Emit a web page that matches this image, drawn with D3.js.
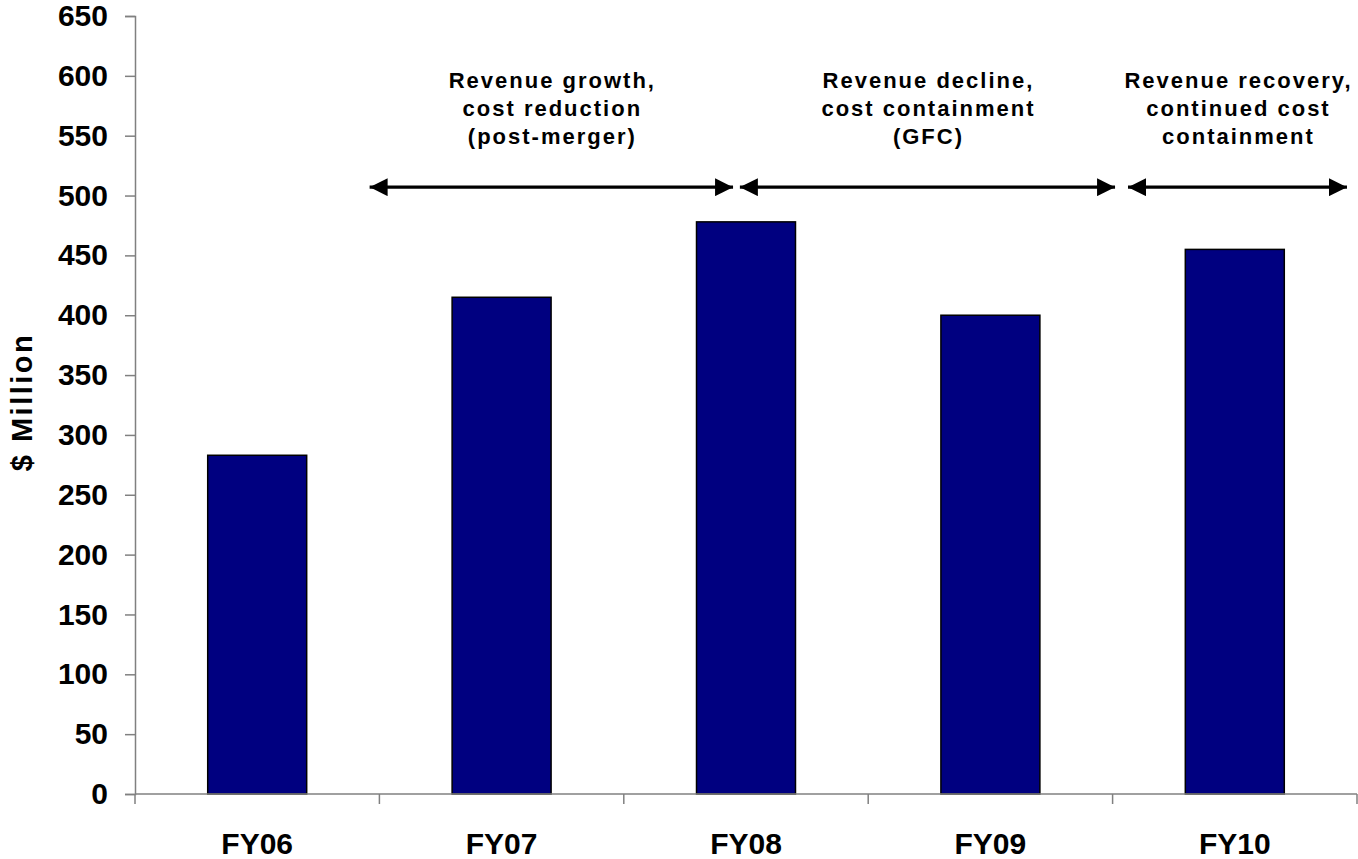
<!DOCTYPE html>
<html>
<head>
<meta charset="utf-8">
<script src="https://cdn.jsdelivr.net/npm/d3@7"></script>
<style>
  html, body { margin: 0; padding: 0; background: #fff; }
  svg { display: block; }
  text { font-family: "Liberation Sans", Arial, sans-serif; font-weight: bold; fill: #000; }
</style>
</head>
<body>
<svg id="chart" width="1358" height="859"></svg>
<script>
// Annual values, $ Million
const categories = ["FY06", "FY07", "FY08", "FY09", "FY10"];
const values = [283, 415, 478, 400, 455];
const yTicks = [0, 50, 100, 150, 200, 250, 300, 350, 400, 450, 500, 550, 600, 650];

// Period annotations: span in category units (0..5) and label lines
const periodStart = [0.96, 2.475, 4.063];
const periodEnd = [2.447, 4.01, 4.959];
const periodLabels = [
  ["Revenue growth,", "cost reduction", "(post-merger)"],
  ["Revenue decline,", "cost containment", "(GFC)"],
  ["Revenue recovery,", "continued cost", "containment"]
];
const periodLevel = 507;

const svg = d3.select("#chart");
const plotLeft = 135, plotRight = 1357, plotTop = 16, plotBottom = 794;

const x = d3.scaleBand().domain(categories).range([plotLeft, plotRight])
  .paddingInner(0.595).paddingOuter(0.2975);
const xPos = d3.scaleLinear().domain([0, categories.length]).range([plotLeft, plotRight]);
const y = d3.scaleLinear().domain([0, 650]).range([plotBottom, plotTop]);

// Bars
svg.append("g").selectAll("rect").data(values).join("rect")
  .attr("x", (d, i) => x(categories[i]))
  .attr("y", d => y(d))
  .attr("width", x.bandwidth())
  .attr("height", d => y(0) - y(d))
  .attr("fill", "#000080")
  .attr("stroke", "#000")
  .attr("stroke-width", 1.5);

// Y axis
const yAxis = svg.append("g").attr("transform", `translate(${plotLeft},0)`)
  .call(d3.axisLeft(y).tickValues(yTicks).tickSize(10).tickPadding(17));
yAxis.select(".domain").attr("stroke", "#808080").attr("stroke-width", 1.5);
yAxis.selectAll(".tick line").attr("stroke", "#808080").attr("stroke-width", 1.5);
yAxis.selectAll(".tick text")
  .style("font-family", "'Liberation Sans', Arial, sans-serif")
  .style("font-weight", "bold").style("font-size", "30px").attr("fill", "#000");

// X axis: ticks on category boundaries
const xAxis = svg.append("g").attr("transform", `translate(0,${plotBottom})`);
xAxis.append("line").attr("x1", plotLeft).attr("x2", plotRight)
  .attr("stroke", "#808080").attr("stroke-width", 1.5);
xAxis.selectAll("line.tk").data(d3.range(categories.length + 1)).join("line")
  .attr("class", "tk")
  .attr("x1", d => xPos(d)).attr("x2", d => xPos(d))
  .attr("y1", 0).attr("y2", 10)
  .attr("stroke", "#808080").attr("stroke-width", 1.5);
xAxis.selectAll("text").data(categories).join("text")
  .attr("x", d => x(d) + x.bandwidth() / 2)
  .attr("y", 60)
  .attr("text-anchor", "middle")
  .style("font-size", "30px")
  .text(d => d);

// Y axis title
svg.append("text")
  .attr("transform", `translate(32,402) rotate(-90)`)
  .attr("text-anchor", "middle")
  .style("font-size", "29px")
  .style("letter-spacing", "2.5px")
  .text("$ Million");

// Arrow heads
const defs = svg.append("defs");
["end", "start"].forEach(kind => {
  defs.append("marker")
    .attr("id", "arrow-" + kind)
    .attr("viewBox", "0 0 18 18")
    .attr("refX", kind === "end" ? 18 : 0).attr("refY", 9)
    .attr("markerWidth", 18).attr("markerHeight", 18)
    .attr("markerUnits", "userSpaceOnUse")
    .attr("orient", "auto")
    .append("path")
    .attr("d", kind === "end" ? "M0,0 L18,9 L0,18 Z" : "M18,0 L0,9 L18,18 Z")
    .attr("fill", "#000");
});

const periods = svg.append("g").selectAll("g").data(periodLabels).join("g");
periods.append("line")
  .attr("x1", (d, i) => xPos(periodStart[i]))
  .attr("x2", (d, i) => xPos(periodEnd[i]))
  .attr("y1", y(periodLevel)).attr("y2", y(periodLevel))
  .attr("stroke", "#000").attr("stroke-width", 3.3)
  .attr("marker-start", "url(#arrow-start)")
  .attr("marker-end", "url(#arrow-end)");
periods.each(function (lines, i) {
  const cx = (xPos(periodStart[i]) + xPos(periodEnd[i])) / 2;
  const t = d3.select(this).append("text")
    .attr("text-anchor", "middle")
    .style("font-size", "22px")
    .style("letter-spacing", "2px");
  lines.forEach((ln, j) => {
    t.append("tspan").attr("x", cx + 1)
      .attr("y", y(periodLevel) - 99 + j * 28)
      .text(ln);
  });
});
</script>
</body>
</html>
